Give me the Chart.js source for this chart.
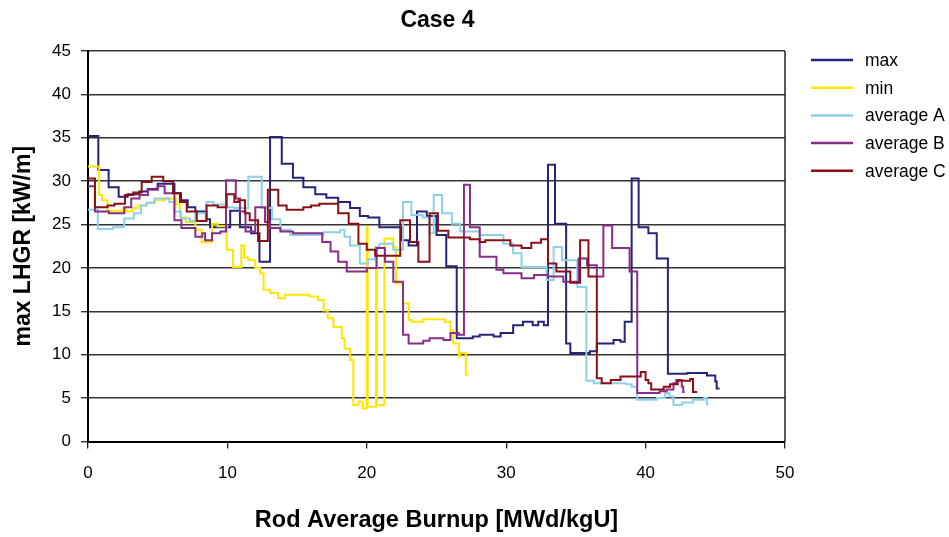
<!DOCTYPE html>
<html>
<head>
<meta charset="utf-8">
<title>Case 4</title>
<script src="https://cdn.jsdelivr.net/npm/chart.js@4/dist/chart.umd.min.js"></script>
<style>
  html, body { margin: 0; padding: 0; background: #fff; }
  #wrap { width: 949px; height: 537px; }
</style>
</head>
<body>
<div id="wrap"><canvas id="chart" width="949" height="537"></canvas></div>
<script>
// --- data: [burnup, LHGR] steps ---
const seriesNames = ['max', 'min', 'average A', 'average B', 'average C'];
const seriesColors = ['#25237A', '#FFE600', '#8DD0EA', '#8A2D8A', '#8B1015'];

const maxSteps = [
  [0, 35.2], [0.74, 31.3], [1.48, 29.3], [2.2, 28.2], [2.85, 28.5], [3.68, 28.8], [4.28, 29.1],
  [5.0, 29.7], [6.2, 28.6], [6.67, 27.8], [7.15, 27.0], [7.7, 26.5], [8.5, 25.6], [8.75, 24.7],
  [10.2, 26.6], [10.9, 24.7], [11.7, 24.0], [12.3, 20.7], [13.06, 35.1], [13.9, 32.0], [14.7, 30.4],
  [15.45, 29.3], [16.3, 28.5], [17.1, 28.1], [17.95, 27.6], [18.8, 26.9], [19.5, 26.0], [20.1, 25.8],
  [20.9, 24.7], [22.5, 23.2], [23.0, 22.6], [23.6, 26.5], [24.3, 26.0], [25.0, 23.8], [25.7, 20.2],
  [26.45, 11.9], [27.6, 12.1], [28.1, 12.3], [29.1, 12.1], [29.6, 12.5], [30.5, 13.4], [31.2, 13.8],
  [31.9, 13.4], [32.3, 13.8], [32.7, 13.4], [33.0, 31.9], [33.5, 25.1], [34.3, 11.3], [34.6, 10.2],
  [36.0, 10.4], [36.5, 11.3], [37.7, 11.7], [38.2, 11.5], [38.5, 13.8], [39.0, 30.3], [39.5, 24.7],
  [40.2, 24.0], [40.8, 21.1], [41.6, 7.8], [43.0, 7.9], [44.4, 7.6], [45.0, 6.9], [45.1, 6.1], [45.3, 6.1]
];

const minSteps = [
  [0, 31.7], [0.8, 28.4], [1.0, 27.8], [1.4, 26.6], [2.5, 26.9], [2.7, 26.5], [3.2, 26.9], [3.6, 27.2],
  [4.2, 27.5], [4.8, 27.8], [5.5, 28.0], [6.3, 27.3], [6.6, 25.8], [7.0, 25.3], [7.7, 24.4], [8.15, 23.0],
  [8.9, 25.1], [9.3, 24.8], [9.95, 22.1], [10.4, 20.1], [11.0, 22.6], [11.2, 21.2], [11.5, 20.9],
  [12.0, 20.0], [12.34, 19.4], [12.6, 17.5], [13.06, 17.1], [13.65, 16.5], [14.13, 16.9], [15.9, 16.7],
  [16.5, 16.3], [16.9, 15.1], [17.2, 14.2], [17.6, 13.2], [18.2, 11.9], [18.4, 10.7], [18.8, 9.4],
  [19.03, 4.2], [19.4, 4.6], [19.7, 3.8], [20.0, 24.7], [20.06, 4.0], [20.66, 22.4], [20.72, 4.2],
  [21.26, 23.4], [21.9, 22.4], [22.1, 18.2], [22.6, 15.9], [23.0, 14.0], [23.2, 13.8], [24.05, 14.1],
  [25.6, 13.8], [26.0, 12.8], [26.2, 11.3], [26.6, 9.8], [26.7, 10.2], [27.1, 7.7], [27.3, 7.7]
];

const avgASteps = [
  [0, 26.7], [0.7, 24.5], [1.77, 24.7], [2.6, 25.7], [3.3, 26.3], [3.8, 27.2], [4.2, 27.5], [4.76, 28.0],
  [5.83, 27.6], [6.2, 26.5], [6.67, 25.7], [7.3, 25.4], [7.7, 26.3], [8.5, 27.6], [9.0, 27.3], [9.9, 27.0],
  [10.5, 26.9], [11.5, 30.5], [12.46, 26.9], [13.2, 25.6], [13.8, 24.4], [14.5, 23.8], [16.9, 24.1],
  [18.1, 24.4], [18.4, 23.6], [18.8, 22.6], [19.5, 20.5], [20.1, 21.0], [20.6, 22.4], [20.9, 22.8],
  [21.9, 22.1], [22.6, 27.6], [23.2, 26.1], [24.0, 25.8], [24.5, 24.0], [24.8, 28.4], [25.4, 26.3],
  [26.1, 25.1], [26.7, 24.2], [28.1, 23.8], [29.8, 22.8], [30.5, 21.7], [31.1, 20.1], [32.9, 18.6],
  [33.4, 22.4], [34.0, 20.9], [35.1, 17.8], [35.75, 7.0], [36.3, 6.7], [38.6, 6.6], [39.0, 6.3],
  [39.4, 4.8], [40.8, 5.0], [41.4, 5.6], [41.7, 5.2], [42.0, 4.2], [42.6, 4.5], [43.4, 4.8], [44.2, 5.0],
  [44.4, 4.3], [44.5, 4.3]
];

const avgBSteps = [
  [0, 29.4], [0.5, 26.5], [1.5, 26.3], [2.6, 27.0], [3.1, 28.0], [3.7, 28.4], [4.3, 29.0], [5.0, 29.4],
  [5.5, 28.6], [6.2, 25.5], [6.7, 24.6], [7.7, 23.6], [8.2, 24.0], [8.4, 23.2], [8.9, 24.0], [9.5, 24.2],
  [9.9, 30.1], [10.6, 28.0], [10.9, 26.5], [11.3, 24.2], [12.0, 27.0], [12.7, 25.3], [13.06, 24.6],
  [13.8, 24.2], [14.7, 24.0], [16.8, 23.0], [17.4, 21.9], [17.95, 20.7], [18.56, 19.6], [20.0, 20.0],
  [20.7, 22.3], [21.3, 20.7], [21.9, 18.4], [22.6, 12.3], [23.0, 11.3], [24.05, 11.6], [24.5, 11.9],
  [25.5, 11.7], [26.0, 12.5], [26.6, 12.3], [26.97, 29.6], [27.4, 24.7], [28.1, 21.3], [29.3, 19.8],
  [29.8, 19.4], [31.1, 18.8], [32.0, 19.2], [33.0, 19.0], [34.1, 18.4], [35.2, 21.1], [35.8, 20.3],
  [36.5, 19.0], [36.97, 24.9], [37.6, 22.3], [38.85, 19.6], [39.4, 5.6], [41.0, 5.8], [41.5, 6.0],
  [42.0, 6.7], [42.2, 7.1], [42.6, 6.3], [42.7, 5.7], [42.8, 5.7]
];

const avgCSteps = [
  [0, 30.3], [0.5, 27.0], [1.4, 27.2], [1.9, 27.4], [2.65, 28.4], [3.25, 28.7], [3.85, 29.9], [4.57, 30.5],
  [5.4, 30.0], [6.1, 28.6], [6.6, 27.6], [7.08, 26.5], [7.8, 25.4], [8.5, 27.2], [9.3, 27.0], [9.95, 28.5],
  [10.5, 27.6], [10.8, 27.8], [11.26, 26.3], [11.6, 25.5], [12.2, 23.1], [12.9, 29.0], [13.65, 27.2],
  [14.25, 26.7], [15.45, 27.0], [16.0, 27.2], [16.6, 27.4], [17.95, 26.3], [18.7, 25.1], [19.4, 22.8],
  [20.0, 22.1], [20.6, 21.4], [22.4, 25.5], [23.1, 23.0], [23.7, 20.7], [24.5, 26.3], [25.1, 24.3],
  [25.85, 23.5], [27.4, 23.3], [28.1, 23.0], [28.5, 23.2], [30.3, 22.6], [31.1, 22.3], [31.8, 22.9],
  [32.5, 23.3], [33.0, 20.5], [33.6, 19.6], [34.6, 18.3], [35.3, 23.2], [35.9, 19.0], [36.5, 7.3],
  [36.85, 6.7], [37.5, 7.1], [38.2, 7.5], [39.65, 8.0], [40.0, 7.1], [40.2, 6.7], [40.4, 6.0], [41.3, 6.3],
  [41.75, 6.6], [42.3, 7.0], [43.2, 7.2], [43.4, 5.7], [43.7, 5.7]
];

const xTicks = [0, 10, 20, 30, 40, 50];
const yTicks = [0, 5, 10, 15, 20, 25, 30, 35, 40, 45];

const FONT = '"Liberation Sans", Arial, sans-serif';
const allSteps = [maxSteps, minSteps, avgASteps, avgBSteps, avgCSteps];

// Excel draws the last series on top
const datasets = allSteps.map((steps, i) => ({
  label: seriesNames[i],
  data: steps.map(p => ({ x: p[0], y: p[1] })),
  borderColor: seriesColors[i],
  backgroundColor: seriesColors[i],
  borderWidth: 2,
  pointRadius: 0,
  stepped: true,
  fill: false,
  order: allSteps.length - i
}));

// title, right border and side legend
const extrasPlugin = {
  id: 'extras',
  beforeDatasetsDraw(chart) {
    const { ctx, chartArea } = chart;
    ctx.save();
    ctx.strokeStyle = '#222';
    ctx.lineWidth = 1.5;
    ctx.beginPath();
    ctx.moveTo(chartArea.right, chartArea.top);
    ctx.lineTo(chartArea.right, chartArea.bottom);
    ctx.stroke();
    ctx.restore();
  },
  afterDraw(chart) {
    const { ctx, chartArea } = chart;
    ctx.save();
    ctx.fillStyle = '#000';
    ctx.textAlign = 'center';
    ctx.textBaseline = 'middle';
    ctx.font = 'bold 23px ' + FONT;
    ctx.fillText('Case 4', (chartArea.left + chartArea.right) / 2 + 1, 21);

    ctx.textAlign = 'left';
    ctx.font = '17.5px ' + FONT;
    chart.data.datasets.forEach((ds, i) => {
      const y = chartArea.top + 9 + i * 27.7;
      ctx.strokeStyle = ds.borderColor;
      ctx.lineWidth = 2.5;
      ctx.beginPath();
      ctx.moveTo(chartArea.right + 26, y);
      ctx.lineTo(chartArea.right + 68, y);
      ctx.stroke();
      ctx.fillText(ds.label, chartArea.right + 80, y + 1);
    });
    ctx.restore();
  }
};

new Chart(document.getElementById('chart'), {
  type: 'line',
  data: { datasets: datasets },
  plugins: [extrasPlugin],
  options: {
    responsive: false,
    animation: false,
    layout: { padding: { left: 0, top: 51, right: 164, bottom: 0 } },
    plugins: {
      legend: { display: false },
      title: { display: false },
      tooltip: { enabled: false }
    },
    scales: {
      x: {
        type: 'linear',
        min: 0,
        max: 50,
        afterFit: s => { s.height = 95.5; },
        afterBuildTicks: s => { s.ticks = xTicks.map(v => ({ value: v })); },
        grid: { drawOnChartArea: false, drawTicks: true, tickLength: 7, color: '#222', lineWidth: 1.3 },
        border: { color: '#000', width: 2 },
        ticks: { color: '#000', font: { family: FONT, size: 17 }, padding: 15, maxRotation: 0 },
        title: {
          display: true,
          text: 'Rod Average Burnup [MWd/kgU]',
          color: '#000',
          font: { family: FONT, size: 23.5, weight: 'bold' },
          padding: { top: 0, bottom: 2 }
        }
      },
      y: {
        min: 0,
        max: 45,
        afterFit: s => { s.width = 88; },
        afterBuildTicks: s => { s.ticks = yTicks.map(v => ({ value: v })); },
        grid: { color: '#333', lineWidth: 1.4, tickLength: 7, drawTicks: true },
        border: { color: '#000', width: 2 },
        ticks: { color: '#000', font: { family: FONT, size: 17 }, padding: 10 },
        title: {
          display: true,
          text: 'max LHGR [kW/m]',
          color: '#000',
          font: { family: FONT, size: 23, weight: 'bold' },
          padding: { top: 10, bottom: 0 }
        }
      }
    }
  }
});
</script>
</body>
</html>
